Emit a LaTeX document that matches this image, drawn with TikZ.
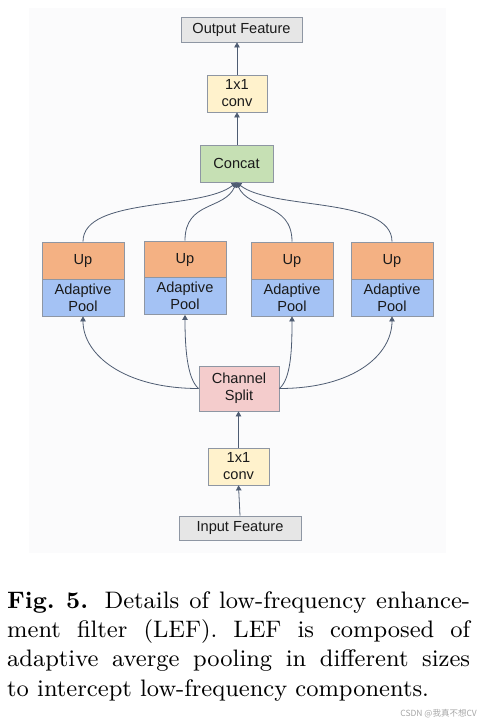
\documentclass[tikz,border=0pt]{standalone}
\usepackage{fontspec}
\newfontfamily\diagfont{Liberation Sans}
\newfontfamily\cjk{Noto Sans CJK SC}
\usetikzlibrary{arrows.meta}
\definecolor{panelbg}{HTML}{FBFBFC}
\definecolor{boxline}{HTML}{8E96A3}
\definecolor{txtc}{HTML}{1A1A1A}
\definecolor{grayfill}{HTML}{E6E6E6}
\definecolor{yellowfill}{HTML}{FFF2CC}
\definecolor{greenfill}{HTML}{C6E0B4}
\definecolor{orangefill}{HTML}{F4B183}
\definecolor{bluefill}{HTML}{A4C2F4}
\definecolor{pinkfill}{HTML}{F4CCCC}
\definecolor{arrowc}{HTML}{4E5C72}
\tikzset{
  blk/.style={draw=boxline, line width=0.8pt, inner sep=0pt, align=center, text=txtc,
    font=\diagfont\fontsize{14.6}{17}\selectfont},
  feat/.style={blk, fill=grayfill, minimum width=121pt, minimum height=25pt},
  convbox/.style={blk, fill=yellowfill, minimum width=60pt, minimum height=37pt},
  upbox/.style={blk, fill=orangefill, minimum width=82pt, minimum height=37pt},
  poolbox/.style={blk, fill=bluefill, minimum width=82pt, minimum height=37pt},
  conn/.style={draw=arrowc, line width=0.8pt, -{Triangle[width=5.5pt,length=5pt]}},
}
\begin{document}
\begin{tikzpicture}[x=1pt,y=-1pt]
\useasboundingbox (0,0) rectangle (483,726);
\fill[panelbg] (29,8) rectangle (446,553);

\node[feat] (out) at (241.5,29.5) {Output Feature};
\node[convbox] (conv2) at (237,93.5) {1x1\\conv};
\node[blk, fill=greenfill, minimum width=73pt, minimum height=37pt] (concat) at (236.5,163.5) {Concat};

\node[upbox] (up1) at (83,260.5) {Up};
\node[poolbox] (pool1) at (83,297.5) {Adaptive\\Pool};
\node[upbox] (up2) at (185,259.5) {Up};
\node[poolbox] (pool2) at (185,296) {Adaptive\\Pool};
\node[upbox] (up3) at (292,260.5) {Up};
\node[poolbox] (pool3) at (292,297.5) {Adaptive\\Pool};
\node[upbox] (up4) at (392,260.5) {Up};
\node[poolbox] (pool4) at (392,297.5) {Adaptive\\Pool};

\node[blk, fill=pinkfill, minimum width=80pt, minimum height=45pt] (split) at (239,388.5) {Channel\\Split};
\node[convbox, minimum width=61pt] (conv1) at (238.5,466.5) {1x1\\conv};
\node[feat, minimum width=122pt, minimum height=24pt] (in) at (240,528) {Input Feature};

% vertical connectors
\draw[conn] (in.north) -- (conv1.south);
\draw[conn] (conv1.north) -- (conv1.north |- split.south);
\draw[conn] (concat.north -| conv2.south) -- (conv2.south);
\draw[conn] (conv2.north) -- (conv2.north |- out.south);

% split to pools
\draw[conn] (split.west) .. controls +(-75,0) and +(0,38) .. (pool1.south);
\draw[conn] (split.west) .. controls +(-12,-10) and +(0,30) .. (pool2.south);
\draw[conn] (split.east) .. controls +(12,-10) and +(0,30) .. (pool3.south);
\draw[conn] (split.east) .. controls +(75,0) and +(0,38) .. (pool4.south);

% ups to concat
\draw[conn] (up1.north) .. controls +(0,-45) and +(-35,28) .. (concat.south);
\draw[conn] (up2.north) .. controls +(0,-40) and +(-12,28) .. (concat.south);
\draw[conn] (up3.north) .. controls +(0,-40) and +(12,28) .. (concat.south);
\draw[conn] (up4.north) .. controls +(0,-45) and +(35,28) .. (concat.south);

\node[anchor=north west, inner sep=0pt] (cap) at (7,591)
  {\scalebox{2.65}{\parbox[t]{174.7pt}{\fontsize{9}{11.1}\selectfont
  \textbf{Fig.~5.} Details of low-frequency enhance-\linebreak ment filter (LEF). LEF is composed of\linebreak adaptive averge pooling in different sizes\linebreak to intercept low-frequency components.}}};

\node[anchor=east, inner sep=0pt, text=black!35, font=\cjk\fontsize{8.5}{9}\selectfont] (wm) at (477,714) {CSDN @我真不想CV};
\end{tikzpicture}
\end{document}
